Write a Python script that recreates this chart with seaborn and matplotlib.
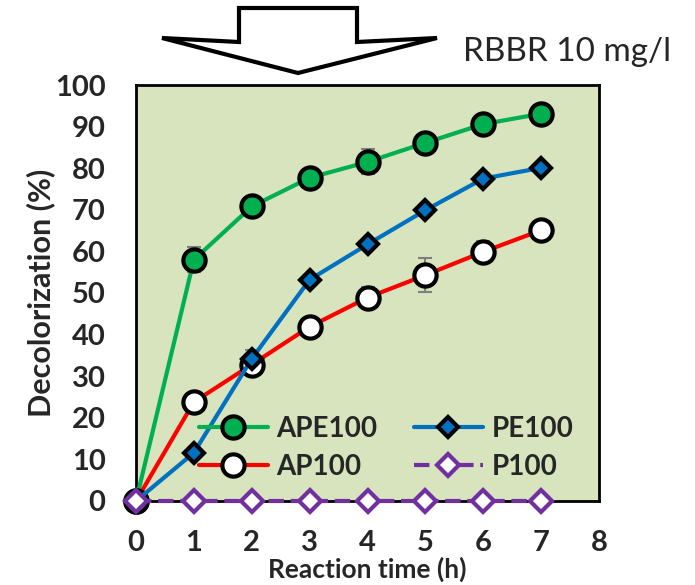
import matplotlib
matplotlib.use("Agg")
import matplotlib.pyplot as plt
import seaborn as sns
import pandas as pd
from matplotlib.patches import Polygon

time_h = [0, 1, 2, 3, 4, 5, 6, 7]
ape100 = [0, 58.0, 70.8, 77.7, 81.5, 86.1, 90.6, 93.1]
ape100_err = [0, 3.0, 2.2, 0.5, 3.0, 0.5, 0.5, 0.5]
pe100 = [0, 11.6, 34.2, 53.2, 61.7, 69.9, 77.5, 80.1]
pe100_err = [0, 0.5, 2.0, 0.5, 0.5, 0.5, 0.5, 0.5]
ap100 = [0, 23.8, 32.8, 41.9, 48.9, 54.3, 59.9, 65.1]
ap100_err = [0, 0.5, 1.5, 0.5, 2.5, 4.0, 2.5, 1.5]
p100 = [0, 0, 0, 0, 0, 0, 0, 0]

sns.set_theme(style="white")
plt.rcParams['font.family'] = ['Lato', 'DejaVu Sans']

fig = plt.figure(figsize=(6.95, 5.85), dpi=100)
ax = fig.add_axes([0.1957, 0.1436, 0.6663, 0.7111])
ax.set_facecolor('#D7E4BD')

series = [
    ('APE100', ape100, ape100_err, '#00B050', 'o', '#00B050', 'black', 16, '-'),
    ('AP100', ap100, ap100_err, '#FF0000', 'o', 'white', 'black', 16, '-'),
    ('PE100', pe100, pe100_err, '#0070C0', 'D', '#0070C0', 'black', 10, '-'),
    ('P100', p100, [0] * 8, '#7030A0', 'D', 'white', '#7030A0', 11, '--'),
]

for name, vals, err, col, mk, fc, ec, ms, ls in series:
    ax.errorbar(time_h, vals, yerr=err, fmt='none', ecolor='#7F7F7F',
                elinewidth=1.5, capsize=5, capthick=1.5, zorder=2)

for name, vals, err, col, mk, fc, ec, ms, ls in series:
    df = pd.DataFrame({'t': time_h, 'v': vals})
    sns.lineplot(data=df, x='t', y='v', ax=ax, color=col, lw=3, ls=ls,
                 marker=mk, markersize=ms, markerfacecolor=fc,
                 markeredgecolor=ec, markeredgewidth=3, label=name,
                 clip_on=False, zorder=3)

ax.set_xlim(0, 8)
ax.set_ylim(0, 100)
ax.set_xticks(range(0, 9))
ax.set_yticks(range(0, 101, 10))
ax.tick_params(axis='x', length=0, labelsize=21, pad=21)
ax.tick_params(axis='y', length=0, labelsize=21, pad=22)
for lab in ax.get_xticklabels() + ax.get_yticklabels():
    lab.set_fontweight('bold')
ax.set_xlabel('Reaction time (h)', fontsize=19, fontweight='bold')
ax.set_ylabel('Decolorization (%)', fontsize=22, fontweight='bold')
ax.xaxis.set_label_coords(0.5, -0.135)
ax.yaxis.set_label_coords(-0.175, 0.5)
for s in ax.spines.values():
    s.set_color('black')
    s.set_linewidth(2)

ax.legend(ncol=2, frameon=False, loc='upper left', bbox_to_anchor=(0.135, 0.205),
          prop={'weight': 'bold', 'size': 20}, handlelength=2.5,
          columnspacing=1.3, labelspacing=0.45, handletextpad=0.3,
          borderaxespad=0, borderpad=0)

# block arrow above the plot
W, H = 695, 585
pts = [(239, 8), (357, 8), (357, 42), (437, 38), (298, 73),
       (162, 38), (239, 42)]
arrow = Polygon([(x / W, 1 - y / H) for x, y in pts], closed=True,
                transform=fig.transFigure, facecolor='white',
                edgecolor='black', lw=3)
fig.patches.append(arrow)
fig.text(463 / W, 1 - 52 / H, 'RBBR 10 mg/l', fontsize=24, va='center',
         ha='left')

fig.savefig('out.png', dpi=100)
